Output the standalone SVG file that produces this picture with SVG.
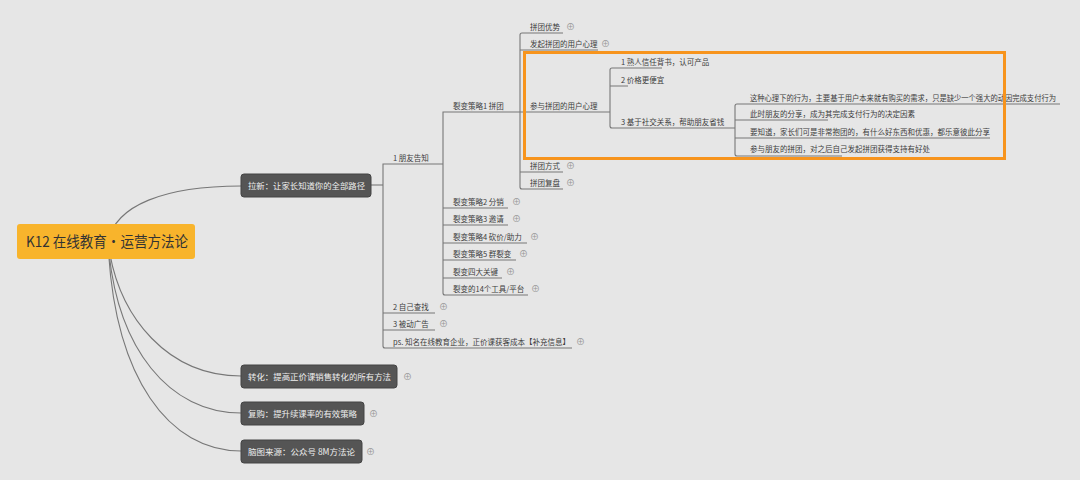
<svg xmlns="http://www.w3.org/2000/svg" width="1080" height="480" viewBox="0 0 1080 480">
<style>
text{font-family:"Noto Sans CJK SC","Liberation Sans",sans-serif;}
.t{font-size:7.5px;fill:#3c3c3c;}
.b{font-size:8.5px;fill:#eee;}
.l{fill:none;stroke:#777;stroke-width:1.1;}
.bx{fill:#555;stroke:#444;}
.p{font-size:9px;fill:#999;}
</style>
<rect width="1080" height="480" fill="#e6e6e6"/>
<g id="connectors" class="l">
<path d="M108,242 C115,205 165,186 241,186"/>
<path d="M108,242 C118,320 170,376 241,376"/>
<path d="M108,242 C116,350 170,413 241,413"/>
<path d="M108,242 C114,380 170,451 241,451"/>
<path d="M371,185 H383"/>
<path d="M443,164 H383 V346 q0,2 2,2 H572"/>
<path d="M383,313 H435 M383,330 H435"/>
<path d="M520,112 H443 V293 q0,2 2,2 H528"/>
<path d="M443,208 H508 M443,225 H508 M443,243 H527 M443,260 H516 M443,278 H502"/>
<path d="M520,112 V35 q0,-2 2,-2 H563 M520,50 H598 M520,112 H610 M520,112 V187 q0,2 2,2 H563 M520,172 H563"/>
<path d="M610,112 V70 q0,-2 2,-2 H662 M610,86 H628 M610,112 V126 q0,2 2,2 H735"/>
<path d="M735,128 V106 q0,-2 2,-2 H1060 M735,120 H828 M735,138 H990 M735,128 V154 q0,2 2,2 H842"/>
</g>
<g id="root"><rect x="17" y="224" width="178" height="35" rx="3" fill="#f8b42c"/><text x="26" y="247" font-size="14.5" fill="#333" textLength="162" lengthAdjust="spacingAndGlyphs">K12 在线教育·运营方法论</text></g>
<g id="b1"><rect class="bx" x="241" y="174" width="130" height="23" rx="3"/><text class="b" x="248" y="189" textLength="117" lengthAdjust="spacingAndGlyphs">拉新：让家长知道你的全部路径</text></g>
<g id="b2"><rect class="bx" x="241" y="365" width="156" height="23" rx="3"/><text class="b" x="248" y="380" textLength="143" lengthAdjust="spacingAndGlyphs">转化：提高正价课销售转化的所有方法</text><text class="p" x="403" y="380">⊕</text></g>
<g id="b3"><rect class="bx" x="241" y="402" width="123" height="23" rx="3"/><text class="b" x="248" y="417" textLength="109" lengthAdjust="spacingAndGlyphs">复购：提升续课率的有效策略</text><text class="p" x="369" y="417">⊕</text></g>
<g id="b4"><rect class="bx" x="241" y="440" width="121" height="23" rx="3"/><text class="b" x="248" y="455" textLength="107" lengthAdjust="spacingAndGlyphs">脑图来源：公众号 8M方法论</text><text class="p" x="366" y="455">⊕</text></g>
<g id="l2">
<text class="t" x="393" y="161">1 朋友告知</text>
<text class="t" x="393" y="310">2 自己查找</text><text class="p" x="439" y="310">⊕</text>
<text class="t" x="393" y="327">3 被动广告</text><text class="p" x="439" y="327">⊕</text>
<text class="t" x="393" y="345">ps. 知名在线教育企业，正价课获客成本【补充信息】</text><text class="p" x="576" y="345">⊕</text>
</g>
<g id="l3">
<text class="t" x="453" y="109">裂变策略1 拼团</text>
<text class="t" x="453" y="205">裂变策略2 分销</text><text class="p" x="512" y="205">⊕</text>
<text class="t" x="453" y="222">裂变策略3 邀请</text><text class="p" x="512" y="222">⊕</text>
<text class="t" x="453" y="240">裂变策略4 砍价/助力</text><text class="p" x="530" y="240">⊕</text>
<text class="t" x="453" y="257">裂变策略5 群裂变</text><text class="p" x="519" y="257">⊕</text>
<text class="t" x="453" y="275">裂变四大关键</text><text class="p" x="506" y="275">⊕</text>
<text class="t" x="453" y="292">裂变的14个工具/平台</text><text class="p" x="531" y="292">⊕</text>
</g>
<g id="l4">
<text class="t" x="530" y="30">拼团优势</text><text class="p" x="566" y="30">⊕</text>
<text class="t" x="530" y="47">发起拼团的用户心理</text><text class="p" x="601" y="47">⊕</text>
<text class="t" x="530" y="109">参与拼团的用户心理</text>
<text class="t" x="530" y="169">拼团方式</text><text class="p" x="566" y="169">⊕</text>
<text class="t" x="530" y="186">拼团复盘</text><text class="p" x="566" y="186">⊕</text>
</g>
<g id="l5">
<text class="t" x="621" y="65">1 熟人信任背书，认可产品</text>
<text class="t" x="621" y="83">2 价格更便宜</text>
<text class="t" x="621" y="125">3 基于社交关系，帮助朋友省钱</text>
</g>
<g id="l6">
<text class="t" x="750" y="101" textLength="306" lengthAdjust="spacingAndGlyphs">这种心理下的行为，主要基于用户本来就有购买的需求，只是缺少一个强大的动因完成支付行为</text>
<text class="t" x="750" y="117">此时朋友的分享，成为其完成支付行为的决定因素</text>
<text class="t" x="750" y="135">要知道，家长们可是非常抱团的，有什么好东西和优惠，都乐意彼此分享</text>
<text class="t" x="750" y="152">参与朋友的拼团，对之后自己发起拼团获得支持有好处</text>
</g>
<rect x="524.5" y="52.5" width="480" height="106" fill="none" stroke="#f7941d" stroke-width="3"/>
</svg>
